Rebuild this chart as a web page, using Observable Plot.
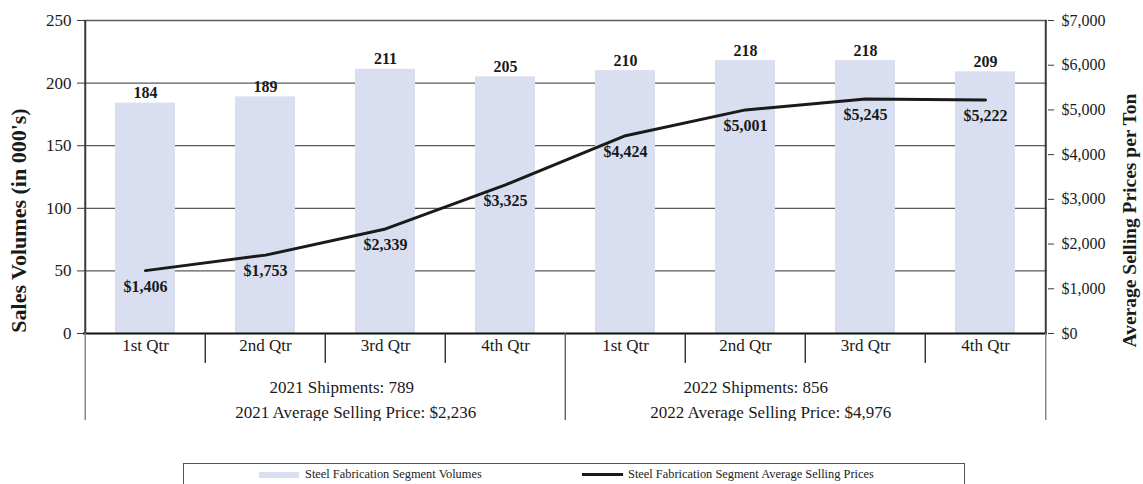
<!DOCTYPE html>
<html>
<head>
<meta charset="utf-8">
<script src="https://cdn.jsdelivr.net/npm/d3@7"></script>
<script src="https://cdn.jsdelivr.net/npm/@observablehq/plot@0.6"></script>
<style>
  html, body { margin: 0; padding: 0; background: #fff; }
  #wrap { position: relative; width: 1143px; height: 484px; overflow: hidden; font-family: "Liberation Serif", "Times New Roman", serif; }
  #chart svg { display: block; }
  #legend { position: absolute; left: 183px; top: 463px; width: 782px; height: 32px; border: 1px solid #555; box-sizing: border-box; }
  .item { position: absolute; top: 3px; display: flex; align-items: center; font-size: 12.4px; color: #222; white-space: nowrap; }
  .sw-bar { width: 40px; height: 6px; background: #d9dff0; margin-right: 6px; }
  .sw-line { width: 41px; height: 3px; background: #1a1a1a; margin-right: 5px; }
</style>
</head>
<body>
<div id="wrap">
  <div id="chart"></div>
  <div id="legend"></div>
</div>
<script>
// ---- data ----
const quarters = ["1st Qtr", "2nd Qtr", "3rd Qtr", "4th Qtr", "1st Qtr", "2nd Qtr", "3rd Qtr", "4th Qtr"];
const years = ["2021", "2021", "2021", "2021", "2022", "2022", "2022", "2022"];
const volumes = [184, 189, 211, 205, 210, 218, 218, 209];
const prices = [1406, 1753, 2339, 3325, 4424, 5001, 5245, 5222];
const groupYears = ["2021", "2022"];
const shipmentLabels = ["2021 Shipments: 789", "2022 Shipments: 856"];
const avgPriceLabels = ["2021 Average Selling Price: $2,236", "2022 Average Selling Price: $4,976"];
const volumeTicks = [0, 50, 100, 150, 200, 250];
const priceTicks = [0, 1000, 2000, 3000, 4000, 5000, 6000, 7000];
const volumeTitle = "Sales Volumes (in 000's)";
const priceTitle = "Average Selling Prices per Ton";
const legendLabels = ["Steel Fabrication Segment Volumes", "Steel Fabrication Segment Average Selling Prices"];

// ---- build ----
const rows = quarters.map((q, i) => ({key: years[i] + " " + q, quarter: q, year: years[i], volume: volumes[i], price: prices[i]}));
const keys = rows.map(d => d.key);
const k = 250 / 7000; // price -> volume-axis units (dual axis)
const fmt = d3.format(",");

const W = 1143, ML = 83, MR = 96, MT = 20, H = 421, MB = 1;
const step = (W - ML - MR) / keys.length;
const yZero = 333;        // pixel of value 0
const frameBottom = H - MB;

const groupNudge = [[16, 30], [-50, -35]];
const groupMarks = groupYears.flatMap((yr, gi) => {
  const anchor = [keys.filter(kk => kk.startsWith(yr))[1]];
  return [
    Plot.text(anchor, {x: d => d, text: () => shipmentLabels[gi], frameAnchor: "bottom", dy: -28, dx: step / 2 + groupNudge[gi][0], fontSize: 17}),
    Plot.text(anchor, {x: d => d, text: () => avgPriceLabels[gi], frameAnchor: "bottom", dy: -3, dx: step / 2 + groupNudge[gi][1], fontSize: 17})
  ];
});

const plot = Plot.plot({
  width: W, height: H,
  marginLeft: ML, marginRight: MR, marginTop: MT, marginBottom: MB,
  style: {fontFamily: "'Liberation Serif', 'Times New Roman', serif", fontSize: "17px", color: "#1a1a1a", background: "#fff"},
  x: {type: "band", domain: keys, paddingInner: 0.5, paddingOuter: 0.25, axis: null},
  y: {domain: [0, 250], range: [yZero, MT], axis: null},
  marks: [
    Plot.ruleY(volumeTicks.slice(1), {stroke: "#5a5a5a", strokeWidth: 1.3}),
    Plot.barY(rows, {x: "key", y: "volume", fill: "#d9dff0"}),
    Plot.ruleY([0], {stroke: "#111", strokeWidth: 2}),
    // axis lines
    Plot.ruleX([keys[0]], {x: d => d, dx: -step / 2, y1: 0, y2: 250, stroke: "#3a3a3a", strokeWidth: 2}),
    Plot.ruleX([keys[keys.length - 1]], {x: d => d, dx: step / 2, y1: 0, y2: 250, stroke: "#3a3a3a", strokeWidth: 2}),
    // table lines
    Plot.ruleX([keys[0]], {x: d => d, dx: -step / 2, insetTop: yZero - MT, stroke: "#888", strokeWidth: 1.5}),
    Plot.ruleX([keys[keys.length - 1]], {x: d => d, dx: step / 2, insetTop: yZero - MT, stroke: "#888", strokeWidth: 1.5}),
    Plot.ruleX(keys.filter((kk, i) => i > 0 && years[i] === years[i - 1]), {x: d => d, dx: -step / 2, insetTop: yZero - MT, insetBottom: frameBottom - 363, stroke: "#222", strokeWidth: 1.3}),
    Plot.ruleX(keys.filter((kk, i) => i > 0 && years[i] !== years[i - 1]), {x: d => d, dx: -step / 2, insetTop: yZero - MT, stroke: "#555", strokeWidth: 1.3}),
    // axes
    Plot.axisY({anchor: "left", ticks: volumeTicks, tickSize: 6, tickPadding: 6, fontSize: 17, label: null, stroke: "#3a3a3a", fill: "#1a1a1a"}),
    Plot.axisY({anchor: "right", ticks: priceTicks.map(v => v * k), tickFormat: v => "$" + fmt(Math.round(v / k)), tickSize: 6, tickPadding: 8, fontSize: 16, label: null, stroke: "#3a3a3a", fill: "#1a1a1a"}),
    // line + labels
    Plot.line(rows, {x: "key", y: d => d.price * k, stroke: "#1a1a1a", strokeWidth: 3}),
    Plot.text(rows, {x: "key", y: d => d.price * k, text: d => "$" + fmt(d.price), dy: 16, fontWeight: "bold", fontSize: 16}),
    Plot.text(rows, {x: "key", y: "volume", text: d => String(d.volume), dy: -10, fontWeight: "bold", fontSize: 16}),
    // category table
    Plot.text(rows, {x: "key", text: "quarter", frameAnchor: "bottom", dy: -(frameBottom - 350), fontSize: 17}),
    ...groupMarks,
    // axis titles
    Plot.text([volumeTitle], {text: d => d, frameAnchor: "left", textAnchor: "middle", rotate: -90, dx: -65, fontWeight: "bold", fontSize: 22}),
    Plot.text([priceTitle], {text: d => d, frameAnchor: "right", textAnchor: "middle", rotate: -90, dx: 82, fontWeight: "bold", fontSize: 19.5})
  ]
});
document.getElementById("chart").appendChild(plot);

// legend
const legend = document.getElementById("legend");
legend.innerHTML =
  `<div class="item" style="left:75px"><span class="sw-bar"></span><span>${legendLabels[0]}</span></div>` +
  `<div class="item" style="left:398px"><span class="sw-line"></span><span>${legendLabels[1]}</span></div>`;
</script>
</body>
</html>
